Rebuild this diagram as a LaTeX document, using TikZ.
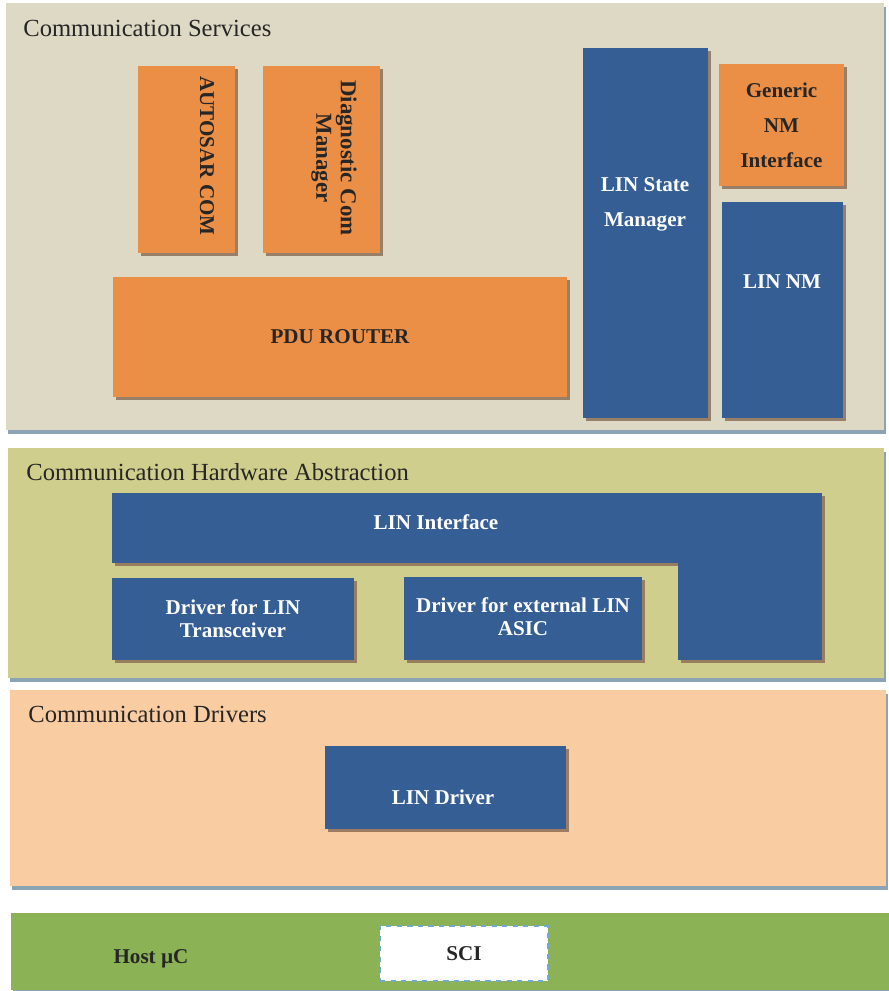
\documentclass[tikz,border=0pt]{standalone}
\usepackage{fontspec}
\setmainfont{Liberation Serif}
\usetikzlibrary{shadows}

\definecolor{servbg}{RGB}{221,217,196}
\definecolor{hwbg}{RGB}{208,206,140}
\definecolor{drvbg}{RGB}{249,204,162}
\definecolor{hostbg}{RGB}{140,178,86}
\definecolor{linblue}{RGB}{53,94,148}
\definecolor{comorange}{RGB}{236,143,70}
\definecolor{panelshade}{RGB}{140,163,180}
\definecolor{boxshade}{RGB}{140,112,88}
\definecolor{sciedge}{RGB}{110,170,210}

\begin{document}
\begin{tikzpicture}[x=0.02cm, y=-0.02cm,
      panel/.style={inner sep=0pt, drop shadow={shadow xshift=1pt, shadow yshift=-2.5pt, fill=panelshade, opacity=1}},
      bluebox/.style={fill=linblue, inner sep=0pt, drop shadow={shadow xshift=1.5pt, shadow yshift=-1.5pt, fill=boxshade, opacity=0.85}},
      orangebox/.style={fill=comorange, inner sep=0pt, drop shadow={shadow xshift=1.5pt, shadow yshift=-1.5pt, fill=boxshade, opacity=0.85}},
      paneltext/.style={anchor=west, inner sep=0pt, font=\fontsize{14}{16}\selectfont, text=black!85},
      whitetext/.style={align=center, font=\fontsize{12}{20}\selectfont\bfseries, text=white},
      darktext/.style={align=center, font=\fontsize{12}{20}\selectfont\bfseries, text=black!85}
    ]
    \fill[white] (0,0) rectangle (889,991);
    \useasboundingbox (0,0) rectangle (889,991);

    % layers
    \node[panel, fill=servbg, minimum width=17.56cm, minimum height=8.54cm] (services) at (445,216.5) {};
    \node[panel, fill=hwbg, minimum width=17.52cm, minimum height=4.6cm] (hwabs) at (446,563) {};
    \node[panel, fill=drvbg, minimum width=17.52cm, minimum height=3.92cm] (drivers) at (448,788) {};
    \node[panel, fill=hostbg, minimum width=17.56cm, minimum height=1.54cm] (host) at (450,951.5) {};
    \node[paneltext] (servicestext) at (23,28) {Communication Services};
    \node[paneltext] (hwabstext) at (26,472) {Communication Hardware Abstraction};
    \node[paneltext] (driverstext) at (28,714) {Communication Drivers};

    % communication services
    \node[orangebox, minimum width=1.94cm, minimum height=3.74cm] (autosarcom) at (186.5,159.5) {};
    \node[darktext, rotate=-90] (autosartext) at (207,156) {AUTOSAR COM};
    \node[orangebox, minimum width=2.34cm, minimum height=3.74cm] (dcm) at (321.5,159.5) {};
    \node[darktext, rotate=-90, font=\fontsize{13}{14}\selectfont\bfseries] (dcmtext) at (334,158) {Diagnostic Com\\Manager};
    \node[orangebox, minimum width=9.08cm, minimum height=2.4cm, darktext] (pdurouter) at (340,337) {PDU ROUTER};
    \node[bluebox, minimum width=2.5cm, minimum height=7.4cm] (linsm) at (645.5,233) {};
    \node[whitetext] (linsmtext) at (645,204) {LIN State\\Manager};
    \node[orangebox, minimum width=2.5cm, minimum height=2.44cm, darktext] (genericnm) at (781.5,125) {Generic\\NM\\Interface};
    \node[bluebox, minimum width=2.42cm, minimum height=4.32cm] (linnm) at (782.5,310) {};
    \node[whitetext] (linnmtext) at (782,282) {LIN NM};

    % hardware abstraction
    \node[bluebox, minimum width=11.32cm, minimum height=1.4cm] (linif) at (395,528) {};
    \node[bluebox, minimum width=2.88cm, minimum height=3.34cm] (linifside) at (750,576.5) {};
    \node[whitetext] (liniftext) at (436,522) {LIN Interface};
    \node[bluebox, minimum width=4.84cm, minimum height=1.64cm, whitetext, font=\fontsize{12}{13}\selectfont\bfseries] (drvtrx) at (233,619) {Driver for LIN\\Transceiver};
    \node[bluebox, minimum width=4.76cm, minimum height=1.66cm] (drvasic) at (523,618.5) {};
    \node[whitetext, font=\fontsize{12}{13}\selectfont\bfseries] (drvasictext) at (523,617) {Driver for external LIN\\ASIC};

    % drivers
    \node[bluebox, minimum width=4.82cm, minimum height=1.66cm] (lindrv) at (445.5,787.5) {};
    \node[whitetext] (lindrvtext) at (443,797) {LIN Driver};

    % host
    \node[darktext] (hosttext) at (151,959) {Host µC};
    \node[fill=white, draw=sciedge, dashed, thick, minimum width=3.36cm, minimum height=1.1cm, darktext] (sci) at (464,953.5) {SCI};
  \end{tikzpicture}
\end{document}
